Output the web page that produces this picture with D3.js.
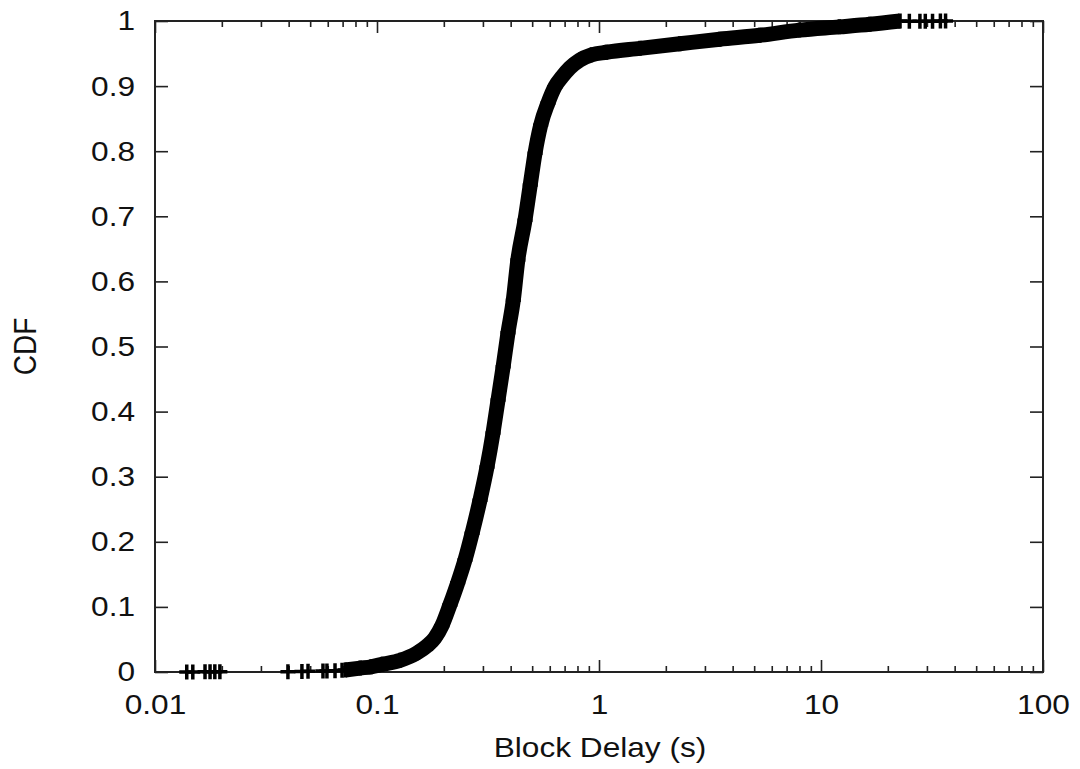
<!DOCTYPE html>
<head>
    <meta charset="utf-8">
    <style>
        body { margin: 0; background: #fff; }
        text { font-family: "Liberation Sans", Arial, sans-serif; fill: #111; }
        .tick line { stroke: #222; stroke-width: 1.6; }
    </style>
</head>
<svg width="1080" height="769" class="cdf-chart"></svg>
<script src="https://cdn.jsdelivr.net/npm/d3@7"></script>
<script>
    // dense part of the CDF (delay in seconds, cumulative fraction)
    const curveDelay = [0.072, 0.084, 0.094, 0.106, 0.127, 0.151, 0.168, 0.182, 0.196, 0.213,
        0.231, 0.249, 0.268, 0.291, 0.313, 0.333, 0.351, 0.370, 0.389, 0.411,
        0.431, 0.464, 0.490, 0.515, 0.546, 0.589, 0.633, 0.681, 0.739, 0.819,
        0.925, 1.08, 1.53, 2.31, 3.5, 5.3, 8.0, 12.1, 16.6, 22.7];
    const curveCdf = [0.003, 0.006, 0.008, 0.012, 0.018, 0.029, 0.040, 0.052, 0.071, 0.103,
        0.137, 0.172, 0.213, 0.264, 0.315, 0.367, 0.418, 0.469, 0.521, 0.571,
        0.633, 0.694, 0.748, 0.797, 0.840, 0.874, 0.899, 0.914, 0.928, 0.940,
        0.948, 0.952, 0.958, 0.965, 0.972, 0.978, 0.986, 0.991, 0.995, 1.0];
    // isolated samples at both tails
    const lowDelay = [0.0139, 0.0148, 0.0168, 0.0177, 0.0186, 0.0196,
        0.0397, 0.0459, 0.0489, 0.0571, 0.0595, 0.0647, 0.0696];
    const lowCdf = [0.0001, 0.0001, 0.0002, 0.0002, 0.0003, 0.0003,
        0.0005, 0.0008, 0.001, 0.0015, 0.0017, 0.002, 0.0025];
    const highDelay = [25.0, 27.9, 29.5, 31.8, 34.5, 36.4];
    const highCdf = [0.9995, 0.9996, 0.9997, 0.9998, 0.9999, 1.0];

    const xMajor = [0.01, 0.1, 1, 10, 100];
    const xMajorLabels = ["0.01", "0.1", "1", "10", "100"];
    const yTicks = [0, 0.1, 0.2, 0.3, 0.4, 0.5, 0.6, 0.7, 0.8, 0.9, 1];
    const yTickLabels = ["0", "0.1", "0.2", "0.3", "0.4", "0.5", "0.6", "0.7", "0.8", "0.9", "1"];

    var svg = d3.select(".cdf-chart"),
        plotLeft = 155, plotRight = 1043, plotTop = 21, plotBottom = 672,
        stretch = 1.13; // the source figure's lettering is a bit wide

    var x = d3.scaleLog().domain([0.01, 100]).range([plotLeft, plotRight]),
        y = d3.scaleLinear().domain([0, 1]).range([plotBottom, plotTop]);

    var xMinor = [];
    [0.01, 0.1, 1, 10].forEach(function(d) {
        for (var k = 2; k <= 9; k++) xMinor.push(d * k);
    });

    function noDomain(g) { g.select(".domain").remove(); }

    // bottom and top axes
    svg.append("g")
        .attr("transform", "translate(0," + plotBottom + ")")
        .call(d3.axisBottom(x).tickValues(xMajor).tickSize(-12).tickPadding(22)
            .tickFormat(function(d, i) { return xMajorLabels[i]; }))
        .call(noDomain)
        .attr("font-size", 28)
        .selectAll("text").attr("transform", "scale(" + stretch + ",1)");
    svg.append("g")
        .attr("transform", "translate(0," + plotBottom + ")")
        .call(d3.axisBottom(x).tickValues(xMinor).tickSize(-6).tickFormat(""))
        .call(noDomain);
    svg.append("g")
        .attr("transform", "translate(0," + plotTop + ")")
        .call(d3.axisTop(x).tickValues(xMajor).tickSize(-12).tickFormat(""))
        .call(noDomain);
    svg.append("g")
        .attr("transform", "translate(0," + plotTop + ")")
        .call(d3.axisTop(x).tickValues(xMinor).tickSize(-6).tickFormat(""))
        .call(noDomain);

    // left and right axes
    svg.append("g")
        .attr("transform", "translate(" + plotLeft + ",0)")
        .call(d3.axisLeft(y).tickValues(yTicks).tickSize(-13).tickPadding(20)
            .tickFormat(function(d, i) { return yTickLabels[i]; }))
        .call(noDomain)
        .attr("font-size", 28)
        .selectAll("text")
        .attr("x", -20 / stretch)
        .attr("transform", "scale(" + stretch + ",1)");
    svg.append("g")
        .attr("transform", "translate(" + plotRight + ",0)")
        .call(d3.axisRight(y).tickValues(yTicks).tickSize(-13).tickFormat(""))
        .call(noDomain);

    svg.append("rect")
        .attr("x", plotLeft).attr("y", plotTop)
        .attr("width", plotRight - plotLeft).attr("height", plotBottom - plotTop)
        .attr("fill", "none").attr("stroke", "#222").attr("stroke-width", 2);

    // axis titles
    svg.append("text")
        .attr("transform", "translate(600,757) scale(" + stretch + ",1)")
        .attr("text-anchor", "middle").attr("font-size", 28)
        .text("Block Delay (s)");
    svg.append("text")
        .attr("transform", "translate(36," + ((plotTop + plotBottom) / 2) + ") rotate(-90) scale(1," + stretch + ")")
        .attr("text-anchor", "middle").attr("font-size", 28)
        .text("CDF");

    // the data: thick band of "+" points
    var curve = curveDelay.map(function(d, i) { return [d, curveCdf[i]]; }),
        tails = lowDelay.map(function(d, i) { return [d, lowCdf[i]]; })
            .concat(highDelay.map(function(d, i) { return [d, highCdf[i]]; }));

    var line = d3.line()
        .x(function(d) { return x(d[0]); })
        .y(function(d) { return y(d[1]); })
        .curve(d3.curveMonotoneX);

    svg.append("path")
        .datum(curve)
        .attr("d", line)
        .attr("fill", "none")
        .attr("stroke", "#000")
        .attr("stroke-width", 15)
        .attr("stroke-linejoin", "round");

    svg.selectAll(".pt")
        .data(curve.concat(tails))
        .enter().append("path")
        .attr("class", "pt")
        .attr("transform", function(d) { return "translate(" + x(d[0]) + "," + y(d[1]) + ")"; })
        .attr("d", "M-7.5,0H7.5M0,-7.5V7.5")
        .attr("stroke", "#000")
        .attr("stroke-width", 3.5);
</script>
